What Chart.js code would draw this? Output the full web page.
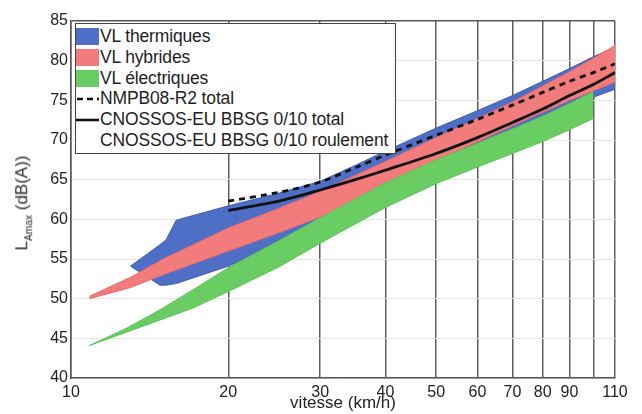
<!DOCTYPE html>
<html>
<head>
<meta charset="utf-8">
<script src="https://cdn.jsdelivr.net/npm/chart.js@4/dist/chart.umd.min.js"></script>
<style>
  html, body { margin: 0; padding: 0; background: #fff; }
  #wrap { position: relative; width: 642px; height: 414px; }
  canvas { display: block; }
  .legend {
    position: absolute; left: 75px; top: 23px; width: 321px; height: 131px;
    box-sizing: border-box; border: 1.5px solid #444; background: #fff;
    font: 17.5px "Liberation Sans", Arial, sans-serif; color: #1e1e1e;
  }
  .row { position: absolute; left: 0; height: 21px; line-height: 21px; white-space: nowrap; }
  .sw { position: absolute; left: 0; top: 2px; width: 23px; height: 17px; }
  .txt { position: absolute; left: 24px; top: 0; letter-spacing: -0.15px; }
  .ytitle {
    position: absolute; left: 23px; top: 203px; transform: translate(-50%, -50%) rotate(-90deg);
    font: 17px "Liberation Sans", Arial, sans-serif; color: #2a2a2a; white-space: nowrap;
  }
  .ytitle sub { font-size: 0.6em; vertical-align: -0.45em; }
</style>
</head>
<body>
<div id="wrap">
  <canvas id="c" width="642" height="414"></canvas>
  <div class="ytitle">L<sub>Amax</sub> (dB(A))</div>
  <div class="legend" id="legend"></div>
</div>
<script>
// speeds in km/h, levels in dB(A)
const speedsBlue = [13, 14.8, 15.2, 15.9, 20, 25, 30, 35, 40, 50, 60, 70, 80, 90, 100, 110];
const blueUpper = [54.1, 56.8, 57.4, 59.9, 61.7, 63.3, 64.8, 66.8, 68.6, 71.5, 73.7, 75.6, 77.4, 79.0, 80.5, 81.7];
const blueLower = [54.1, 51.7, 51.7, 51.9, 54.1, 56.8, 59.5, 61.6, 63.5, 66.5, 69.0, 71.0, 72.7, 74.2, 75.4, 76.4];

const speedsRed = [10.85, 13, 15, 20, 25, 30, 40, 50, 60, 70, 80, 90, 100, 110];
const redUpper = [50.3, 52.7, 55.0, 58.9, 61.4, 63.5, 67.3, 70.3, 72.7, 74.8, 76.8, 78.6, 80.3, 81.9];
const redLower = [50.0, 51.4, 53.0, 56.0, 58.3, 60.3, 64.2, 67.4, 69.8, 71.8, 73.5, 75.0, 76.2, 77.3];

const speedsGreen = [10.85, 12.8, 14.8, 17.1, 20, 25, 30, 40, 50, 60, 70, 80, 90, 100];
const greenUpper = [44.1, 46.3, 48.6, 51.1, 53.9, 57.3, 60.2, 64.6, 67.5, 69.6, 71.4, 73.0, 74.6, 76.1];
const greenLower = [44.1, 45.8, 47.3, 48.8, 50.9, 54.0, 57.0, 61.5, 64.5, 66.6, 68.3, 69.8, 71.3, 72.7];

const speedsLines = [20, 25, 30, 35, 40, 50, 60, 70, 80, 90, 100, 110];
const nmpbTotal = [62.3, 63.4, 64.7, 66.5, 68.1, 70.6, 72.6, 74.4, 76.0, 77.4, 78.5, 79.6];
const cnossosTotal = [61.1, 62.3, 63.7, 65.0, 66.2, 68.3, 70.3, 72.2, 73.9, 75.6, 77.0, 78.5];

const xTicks = [10, 20, 30, 40, 50, 60, 70, 80, 90, 100, 110];
const xTickLabels = ['10', '20', '30', '40', '50', '60', '70', '80', '90', '', '110'];

const legendItems = [
  { label: 'VL thermiques', kind: 'box', color: '#4f6fc6' },
  { label: 'VL hybrides', kind: 'box', color: '#f27b7b' },
  { label: 'VL électriques', kind: 'box', color: '#6acd63' },
  { label: 'NMPB08-R2 total', kind: 'dash' },
  { label: 'CNOSSOS-EU BBSG 0/10 total', kind: 'line' },
  { label: 'CNOSSOS-EU BBSG 0/10 roulement', kind: 'none' }
];

const pts = (xs, ys) => xs.map((x, i) => ({ x, y: ys[i] }));

function band(xs, ys, color, edge, order, fillTarget) {
  return {
    data: pts(xs, ys),
    borderColor: edge,
    borderWidth: 1,
    backgroundColor: color,
    fill: fillTarget === undefined ? false : { target: fillTarget },
    pointRadius: 0,
    tension: 0,
    order
  };
}

const font = { family: '"Liberation Sans", Arial, sans-serif', size: 16 };

new Chart(document.getElementById('c'), {
  type: 'line',
  data: {
    datasets: [
      band(speedsBlue, blueLower, '#4f6fc6', '#3f5db5', 5),
      band(speedsBlue, blueUpper, '#4f6fc6', '#3f5db5', 5, 0),
      band(speedsRed, redLower, '#f27b7b', '#ea6b6b', 4),
      band(speedsRed, redUpper, '#f27b7b', '#ea6b6b', 4, 2),
      band(speedsGreen, greenLower, '#6acd63', '#5cc455', 3),
      band(speedsGreen, greenUpper, '#6acd63', '#5cc455', 3, 4),
      {
        label: 'NMPB08-R2 total',
        data: pts(speedsLines, nmpbTotal),
        borderColor: '#111',
        borderWidth: 2.8,
        borderDash: [6, 5],
        pointRadius: 0,
        tension: 0.3,
        fill: false,
        order: 1
      },
      {
        label: 'CNOSSOS-EU BBSG 0/10 total',
        data: pts(speedsLines, cnossosTotal),
        borderColor: '#111',
        borderWidth: 2.8,
        pointRadius: 0,
        tension: 0.3,
        fill: false,
        order: 0
      }
    ]
  },
  options: {
    responsive: false,
    animation: false,
    events: [],
    layout: { padding: { left: 0, top: 21, right: 27, bottom: 0 } },
    plugins: { legend: { display: false }, tooltip: { enabled: false } },
    scales: {
      x: {
        type: 'logarithmic',
        min: 10,
        max: 110,
        afterBuildTicks: (s) => { s.ticks = xTicks.map((v) => ({ value: v })); },
        afterFit: (s) => { s.height = 36; },
        ticks: {
          autoSkip: false,
          maxRotation: 0,
          padding: 5,
          color: '#222',
          font,
          callback: (v, i) => xTickLabels[i]
        },
        grid: { color: '#5e5e5e', lineWidth: 1.5, drawTicks: false },
        border: { color: '#555', width: 1.5 },
        title: {
          display: true,
          text: 'vitesse (km/h)',
          color: '#222',
          font: { ...font, size: 17 },
          padding: { top: 0, bottom: 0 }
        }
      },
      y: {
        min: 40,
        max: 85,
        afterFit: (s) => { s.width = 71; },
        ticks: { stepSize: 5, padding: 3, color: '#222', font },
        grid: {
          drawTicks: false,
          lineWidth: (ctx) => (ctx.tick && ctx.tick.value === 85 ? 1.5 : 1),
          color: (ctx) => (ctx.tick && ctx.tick.value === 85 ? '#555' : '#e6e6e6')
        },
        border: { color: '#555', width: 1.5 }
      }
    }
  }
});

// legend box drawn as html over the plot
const legendEl = document.getElementById('legend');
legendItems.forEach((item, i) => {
  const row = document.createElement('div');
  row.className = 'row';
  row.style.top = (2 + i * 20.8) + 'px';
  let sym = '';
  if (item.kind === 'box') {
    sym = `<div class="sw" style="background:${item.color}"></div>`;
  } else if (item.kind === 'dash') {
    sym = '<svg class="sw" width="23" height="17"><line x1="1" y1="9" x2="23" y2="9" stroke="#111" stroke-width="2.6" stroke-dasharray="6 4"/></svg>';
  } else if (item.kind === 'line') {
    sym = '<svg class="sw" width="23" height="17"><line x1="0" y1="9" x2="23" y2="9" stroke="#111" stroke-width="2.6"/></svg>';
  }
  row.innerHTML = sym + `<span class="txt">${item.label}</span>`;
  legendEl.appendChild(row);
});
</script>
</body>
</html>
